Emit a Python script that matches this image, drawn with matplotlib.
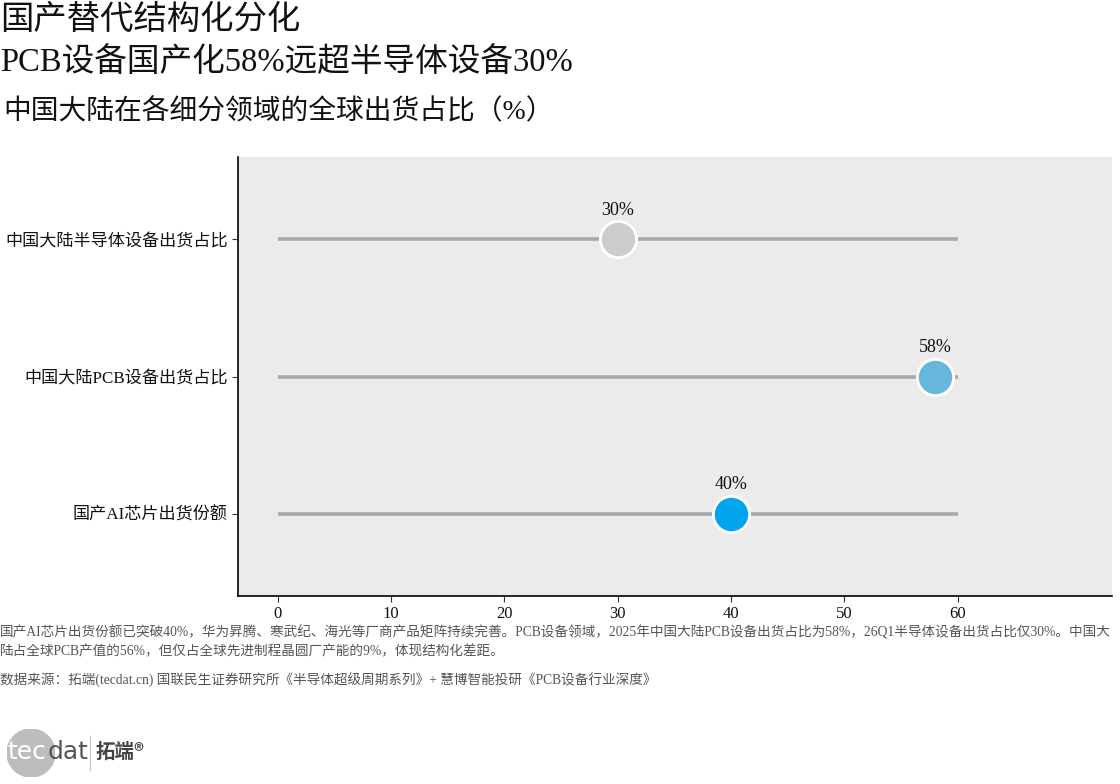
import matplotlib.pyplot as plt
from matplotlib.patches import Circle

plt.rcParams['font.family'] = ['Liberation Serif', 'Noto Sans CJK SC', 'DejaVu Sans']

categories = ["中国大陆半导体设备出货占比", "中国大陆PCB设备出货占比", "国产AI芯片出货份额"]
values = [30, 58, 40]
seg_start = [0, 0, 0]
seg_end = [60, 60, 60]
colors = ["#CCCCCC", "#67B7DC", "#00A5EE"]
xticks = [0, 10, 20, 30, 40, 50, 60]

title1 = "国产替代结构化分化"
title2 = "PCB设备国产化58%远超半导体设备30%"
subtitle = "中国大陆在各细分领域的全球出货占比（%）"
note = ("国产AI芯片出货份额已突破40%，华为昇腾、寒武纪、海光等厂商产品矩阵持续完善。PCB设备领域，2025年中国大陆PCB设备出货占比为58%，26Q1半导体设备出货占比仅30%。中国大\n"
        "陆占全球PCB产值的56%，但仅占全球先进制程晶圆厂产能的9%，体现结构化差距。")
source = "数据来源：拓端(tecdat.cn) 国联民生证券研究所《半导体超级周期系列》+ 慧博智能投研《PCB设备行业深度》"

fig = plt.figure(figsize=(11.2, 7.84), dpi=100)
ax = fig.add_axes([238 / 1120, 1 - 596 / 784, (1112 - 238) / 1120, (596 - 157) / 784])
ax.set_facecolor("#EBEBEB")

ypos = list(range(len(categories)))
for y, s, e, v, c in zip(ypos, seg_start, seg_end, values, colors):
    ax.plot([s, e], [y, y], color="#A9A9A9", lw=2.6, solid_capstyle="butt", zorder=1)
    ax.scatter([v], [y], s=680, color=c, edgecolor="white", linewidth=2, zorder=3)
    ax.text(v, y - 0.15, f"{v}%", ha="center", va="bottom", fontsize=13, color="#111111")

ax.set_xlim(-3.5, 73.6)
ax.set_ylim(2.6, -0.6)
ax.set_yticks(ypos)
ax.set_yticklabels(categories, fontsize=12.3)
ax.set_xticks(xticks)
ax.set_xticklabels([str(t) for t in xticks], fontsize=12)
ax.tick_params(axis="both", length=4, color="#333333", labelcolor="#111111")
for sp in ["top", "right"]:
    ax.spines[sp].set_visible(False)
for sp in ["left", "bottom"]:
    ax.spines[sp].set_linewidth(1.2)
    ax.spines[sp].set_color("black")

fig.text(0.0, 1 - 29 / 784, title1, fontsize=24, va="baseline", ha="left", color="#111111")
fig.text(0.0, 1 - 71 / 784, title2, fontsize=23.5, va="baseline", ha="left", color="#111111")
fig.text(0.003, 1 - 119 / 784, subtitle, fontsize=20, va="baseline", ha="left", color="#111111")
fig.text(0.0, 1 - 625 / 784, note, fontsize=9.8, va="top", ha="left", color="#555555", linespacing=1.5)
fig.text(0.0, 1 - 673 / 784, source, fontsize=9.8, va="top", ha="left", color="#555555")

# logo
lax = fig.add_axes([7 / 1120, 1 - 777 / 784, 48 / 1120, 48 / 784])
lax.set_xlim(0, 1)
lax.set_ylim(0, 1)
lax.set_aspect("equal")
lax.axis("off")
lax.add_patch(Circle((0.5, 0.5), 0.5, color="#BDBDBD"))
fig.text(46 / 1120, 1 - 752 / 784, "tec", fontsize=18, color="white", va="center", ha="right",
         family=["DejaVu Sans"])
fig.text(48 / 1120, 1 - 752 / 784, "dat", fontsize=18, color="#555555", va="center", ha="left",
         family=["DejaVu Sans"])
fig.add_artist(plt.Line2D([90 / 1120, 90 / 1120], [1 - 736 / 784, 1 - 770 / 784], color="#CCCCCC", lw=1))
fig.text(96 / 1120, 1 - 752 / 784, "拓端®", fontsize=14, color="#444444", va="center", ha="left",
         weight="bold", family=["Noto Sans CJK SC", "DejaVu Sans"])

fig.savefig("out.png", dpi=100)
